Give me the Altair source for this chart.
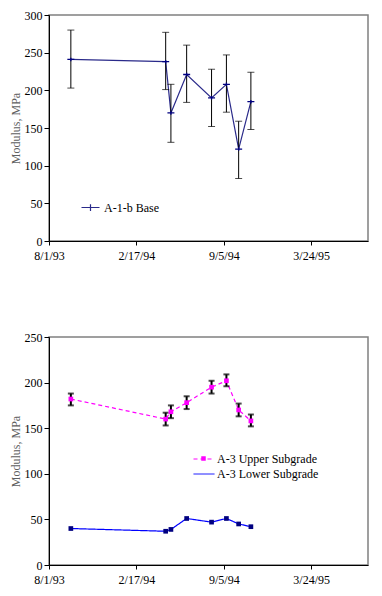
import altair as alt
import pandas as pd

# ---- data ----
dates = ["1993-09-20", "1994-04-25", "1994-05-07", "1994-06-12",
         "1994-08-08", "1994-09-11", "1994-10-09", "1994-11-06"]

base_mod = [241, 238, 170, 221, 190, 208, 122, 185]
base_hi = [280, 277, 208, 260, 228, 247, 159, 224]
base_lo = [203, 201, 131, 184, 152, 171, 83, 148]

upper_mod = [182, 160, 168, 178, 195, 202, 170, 158]
upper_hi = [188, 167, 175, 185, 202, 209, 177, 165]
upper_lo = [175, 153, 161, 171, 188, 196, 163, 152]

lower_mod = [40, 37, 39, 51, 47, 51, 45, 42]

tick_days = [0, 200, 400, 600]
tick_labels = ["8/1/93", "2/17/94", "9/5/94", "3/24/95"]
origin = "1993-08-01"

# ---- frames ----
days = list((pd.to_datetime(dates) - pd.Timestamp(origin)).days)

top_df = pd.DataFrame({"day": days, "mod": base_mod, "hi": base_hi, "lo": base_lo,
                       "series": "A-1-b Base"})
up_df = pd.DataFrame({"day": days, "mod": upper_mod, "hi": upper_hi, "lo": upper_lo,
                      "series": "A-3 Upper Subgrade", "marker": "Upper"})
low_df = pd.DataFrame({"day": days, "mod": lower_mod, "hi": lower_mod, "lo": lower_mod,
                       "series": "A-3 Lower Subgrade", "marker": "Lower"})
bot_df = pd.concat([up_df, low_df], ignore_index=True)

label_expr = "".join(f"datum.value == {d} ? '{l}' : " for d, l in zip(tick_days, tick_labels)) + "''"

FONT = "Liberation Serif"
FS = 12

XAXIS = alt.Axis(values=tick_days, labelExpr=label_expr, title=None,
                 tickSize=4, labelPadding=5, labelFont=FONT, labelFontSize=FS,
                 labelOverlap=False, labelFlush=False)
XSCALE = alt.Scale(domain=[0, 730], nice=False, zero=False)


def X():
    return alt.X("day:Q", scale=XSCALE, axis=XAXIS)


def Y(field, maxv):
    ax = alt.Axis(values=[int(v) for v in range(0, maxv + 1, 50)], title="Modulus, MPa",
                  tickSize=5, labelPadding=2, titlePadding=2, labelOverlap=False, labelFlush=False,
                  labelFont=FONT, labelFontSize=FS, titleFont=FONT, titleFontSize=FS)
    return alt.Y(f"{field}:Q", scale=alt.Scale(domain=[0, maxv], nice=False), axis=ax,
                 title="Modulus, MPa")


# ---- top chart ----
tb = alt.Chart(top_df)
top_line = tb.mark_line(strokeWidth=1.2).encode(
    x=X(), y=Y("mod", 300),
    color=alt.Color("series:N", scale=alt.Scale(domain=["A-1-b Base"], range=["#2a2a8a"]),
                    legend=alt.Legend(title=None, orient="none", legendX=33, legendY=184,
                                      symbolType="M-1.2,0H1.2M0,-0.45V0.45", symbolSize=225,
                                      symbolStrokeWidth=1.2, labelOffset=5, padding=0,
                                      labelFont=FONT, labelFontSize=FS, labelColor="black")))
top_rule = tb.mark_rule(color="black", strokeWidth=1).encode(x=X(), y=Y("lo", 300), y2="hi:Q")
top_cap_hi = tb.mark_tick(orient="horizontal", size=7, thickness=1, color="black").encode(x=X(), y=Y("hi", 300))
top_cap_lo = tb.mark_tick(orient="horizontal", size=7, thickness=1, color="black").encode(x=X(), y=Y("lo", 300))
top_pts = tb.mark_point(shape="M-1,0H1M0,-0.5V0.5", size=49, filled=False,
                        color="#000080", strokeWidth=1.3, opacity=1).encode(x=X(), y=Y("mod", 300))
top = alt.layer(top_line, top_rule, top_cap_hi, top_cap_lo, top_pts).properties(width=319, height=226)

# ---- bottom chart ----
bb = alt.Chart(bot_df)
ser_dom = ["A-3 Upper Subgrade", "A-3 Lower Subgrade"]
leg = alt.Legend(title=None, orient="none", legendX=147, legendY=114,
                 symbolType="M-1.4,0H1.4", symbolSize=225, symbolStrokeWidth=1,
                 labelOffset=5, padding=0, rowPadding=1,
                 labelFont=FONT, labelFontSize=FS, labelColor="black")
bot_line = bb.mark_line(strokeWidth=1.2).encode(
    x=X(), y=Y("mod", 250),
    color=alt.Color("series:N", scale=alt.Scale(domain=ser_dom, range=["#ff00ff", "#0000ff"]), legend=leg),
    strokeDash=alt.StrokeDash("series:N", scale=alt.Scale(domain=ser_dom, range=[[4, 3], [1, 0]]), legend=leg),
    detail="series:N")
ub = alt.Chart(up_df)
bot_rule = ub.mark_rule(color="black", strokeWidth=2).encode(x=X(), y=Y("lo", 250), y2="hi:Q")
bot_cap_hi = ub.mark_tick(orient="horizontal", size=6, thickness=2, color="black").encode(x=X(), y=Y("hi", 250))
bot_cap_lo = ub.mark_tick(orient="horizontal", size=6, thickness=2, color="black").encode(x=X(), y=Y("lo", 250))
bot_pts = bb.mark_point(filled=True, shape="square", size=22, opacity=1, strokeWidth=0).encode(
    x=X(), y=Y("mod", 250),
    fill=alt.Fill("marker:N", scale=alt.Scale(domain=["Upper", "Lower"], range=["#ff00ff", "#000080"]),
                  legend=alt.Legend(title=None, orient="none", legendX=147, legendY=114,
                                    values=["Upper"], symbolType="M-0.3,-0.3H0.3V0.3H-0.3Z",
                                    symbolSize=225, symbolStrokeWidth=0, labelOffset=5, padding=0,
                                    rowPadding=1, labelExpr="''", labelFontSize=FS)))
bottom = alt.layer(bot_line, bot_rule, bot_cap_hi, bot_cap_lo, bot_pts).properties(width=319, height=228)

chart = alt.vconcat(top, bottom, spacing=68).resolve_scale(
    color="independent", strokeDash="independent", fill="independent"
).resolve_legend(
    color="independent", strokeDash="independent", fill="independent"
).properties(
    padding={"left": 0, "top": 0, "right": 0, "bottom": 0}
).configure(font=FONT).configure_axis(
    labelFont=FONT, labelFontSize=FS, labelColor="black", labelOverlap=False,
    titleFont=FONT, titleFontSize=FS, titleFontWeight="normal", titleColor="#606060",
    domainColor="black", tickColor="black", grid=False
).configure_view(stroke="#808080", strokeWidth=1.5)

chart.save("out.html", embed_options={"renderer": "svg", "actions": False})
